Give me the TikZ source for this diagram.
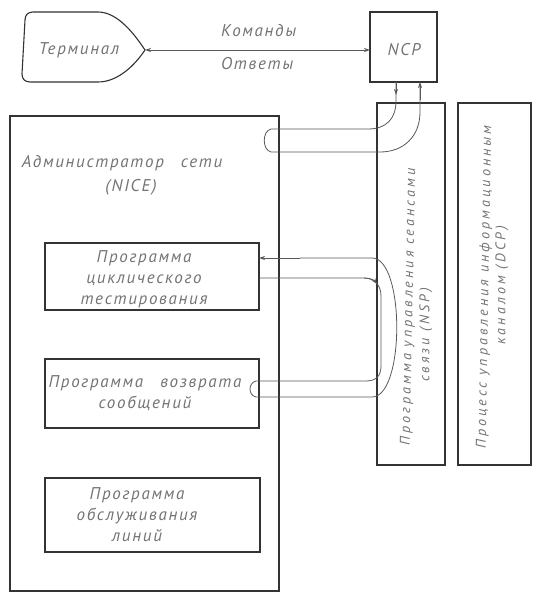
\documentclass[tikz,border=0pt]{standalone}
\usepackage{fontspec}
\setmainfont{PT Sans}
\newfontfamily\gost[LetterSpace=10]{PT Sans}
\newfontfamily\gostwide[LetterSpace=22]{PT Sans}
\usetikzlibrary{arrows.meta,calc}
\begin{document}
\begin{tikzpicture}[x=1pt,y=-1pt,
  box/.style={draw=black!80, line width=1.1pt, inner sep=0pt, outer sep=0pt, anchor=north west},
  lbl/.style={text=black!55, inner sep=0pt, font=\gost\itshape\fontsize{17}{21}\selectfont},
  vlbl/.style={text=black!55, inner sep=0pt, font=\gostwide\itshape\fontsize{14}{16}\selectfont},
  conn/.style={draw=black!65, line width=0.8pt},
  tip/.style={-{Stealth[length=6pt,width=4pt]}},
  tips/.style={{Stealth[length=6pt,width=4pt]}-{Stealth[length=6pt,width=4pt]}}]
\useasboundingbox (0,0) rectangle (532,593);

% terminal outline
\draw[draw=black!80, line width=1.1pt] (33,12) -- (98,12)
  .. controls (118,12) and (135,35) .. (145,50)
  .. controls (135,65) and (118,82) .. (98,82) -- (30,82)
  .. controls (25,82) and (22,79) .. (22,74) -- (25,20)
  .. controls (25,15) and (28,12) .. (33,12) -- cycle;
\coordinate (termtip) at (145,50);
\node[lbl] (term) at (79,50) {Терминал};

% boxes
\node[box, minimum width=67pt, minimum height=70pt] (ncp) at (370,12) {};
\node[lbl] (ncptxt) at (404,50) {NCP};
\node[box, minimum width=68pt, minimum height=362pt] (nsp) at (377,103) {};
\node[box, minimum width=73pt, minimum height=362pt] (dcp) at (458,103) {};
\node[box, minimum width=269pt, minimum height=475pt] (nice) at (10,116) {};
\node[box, minimum width=214pt, minimum height=67pt] (cyc) at (45,243) {};
\node[box, minimum width=214pt, minimum height=69pt] (ret) at (45,359) {};
\node[box, minimum width=215pt, minimum height=74pt] (lin) at (45,478) {};

% texts
\node[lbl, align=center] (nicetxt) at (122,175) {Администратор\quad сети\\[3pt]\hspace*{18pt}(NICE)};
\node[lbl, align=center] (cyctxt) at (144,279) {Программа\\циклического\\тестирования};
\node[lbl, align=center] (rettxt) at (145,393) {Программа\quad возврата\\сообщений};
\node[lbl, align=center] (lintxt) at (137,515) {Программа\\обслуживания\\линий};
\node[vlbl, rotate=88.8] (nsp1) at (409,307) {Программа управления сеансами};
\node[vlbl, rotate=90] (nsp2) at (426,335) {связи (NSP)};
\node[vlbl, rotate=89] (dcp1) at (485,287) {Процесс управления информационным};
\node[vlbl, rotate=90] (dcp2) at (502,285) {каналом (DCP)};

% terminal <-> NCP
\draw[conn, tips] (termtip) -- (ncp.west |- termtip);
\node[lbl, anchor=west] (cmd) at (221,31) {Команды};
\node[lbl, anchor=west] (ans) at (221,64) {Ответы};

% NCP <-> network administrator
\coordinate (a1) at ([xshift=26pt]ncp.south west);
\coordinate (a2) at ([xshift=50pt]ncp.south west);
\draw[conn, tip] (a1) -- ++(0,13);
\draw[conn] (a1) -- ++(0,19) .. controls ++(0,18) and (386,129) .. (368,129) -- (271,129)
  .. controls (262,131) and (262,150) .. (271,152) -- (380,152)
  .. controls (404,152) and (a2 |- 0,136) .. (a2 |- 0,112) -- (a2);
\draw[conn, tip] (a2 |- 0,100) -- (a2);

% cyclic testing <-> message return
\coordinate (b1) at ($(cyc.north east)+(0,35)$);
\coordinate (b2) at ($(cyc.north east)+(0,15)$);
\draw[conn, tip] (b1) -- (364,278) .. controls (370,278) and (374,280) .. (377,284);
\draw[conn] (364,278) .. controls (374,278) and (381,285) .. (381,296) -- (381,366)
  .. controls (381,376) and (376,381) .. (366,381) -- (256,381)
  .. controls (248,383) and (248,395) .. (256,397) -- (372,397)
  .. controls (405,397) and (405,258) .. (372,258) -- (300,258);
\draw[conn, tip] (300,258) -- (b2);
\end{tikzpicture}
\end{document}
